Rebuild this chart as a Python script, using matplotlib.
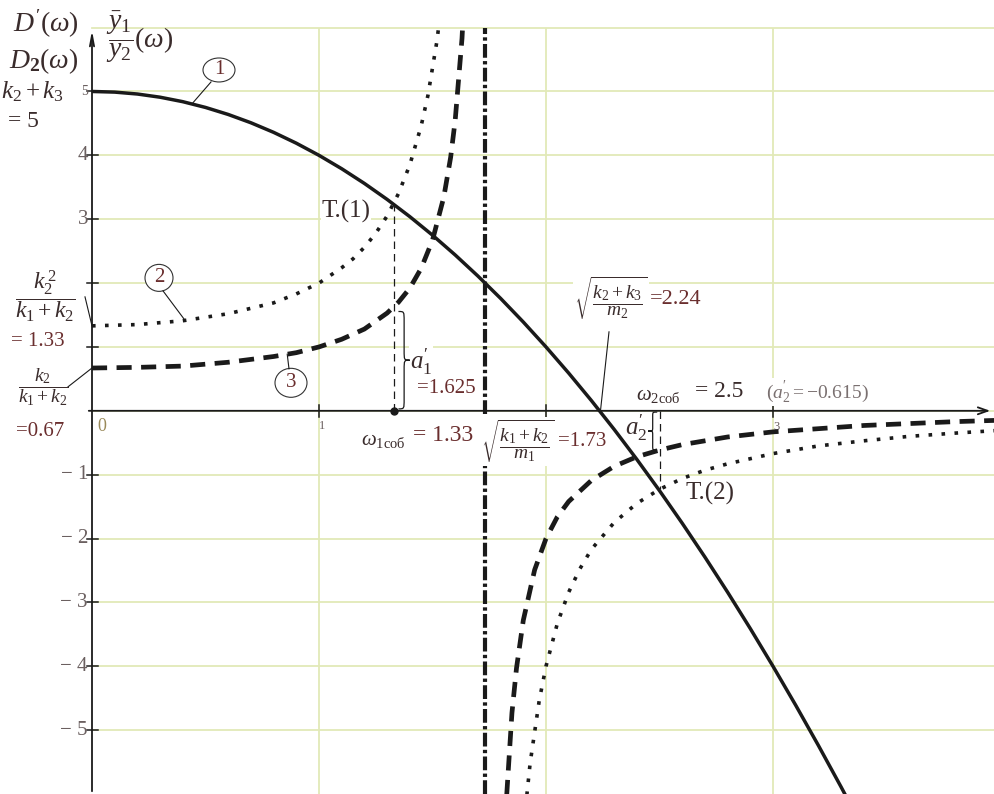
import numpy as np
import matplotlib.pyplot as plt
from matplotlib.patches import Ellipse, PathPatch
from matplotlib.path import Path

plt.rcParams['font.family'] = ['Liberation Serif', 'DejaVu Serif']
plt.rcParams['mathtext.fontset'] = 'custom'
plt.rcParams['mathtext.rm'] = 'Liberation Serif'
plt.rcParams['mathtext.it'] = 'Liberation Serif:italic'
plt.rcParams['mathtext.bf'] = 'Liberation Serif:bold'

# curve 1: D'(w)
w1 = [0.0, 0.1, 0.2, 0.3, 0.4, 0.5, 0.6, 0.7, 0.8, 0.9, 1.0, 1.1, 1.2, 1.3, 1.4, 1.5, 1.6,
      1.7, 1.8, 1.9, 2.0, 2.1, 2.2, 2.3, 2.4, 2.5, 2.6, 2.7, 2.8, 2.9, 3.0, 3.1, 3.2, 3.3, 3.4]
d1 = [5.00, 4.99, 4.96, 4.91, 4.84, 4.75, 4.64, 4.51, 4.36, 4.19, 4.00, 3.79, 3.56, 3.31,
      3.04, 2.75, 2.44, 2.11, 1.76, 1.39, 1.00, 0.59, 0.16, -0.29, -0.76, -1.25, -1.76,
      -2.29, -2.84, -3.41, -4.00, -4.61, -5.24, -5.89, -6.56]

# curve 2 (dotted), two branches
w2a = [0.0, 0.2, 0.4, 0.6, 0.8, 0.9, 1.0, 1.1, 1.15, 1.2, 1.25, 1.3, 1.35, 1.4, 1.45, 1.48, 1.52, 1.55]
y2a = [1.33, 1.35, 1.41, 1.52, 1.69, 1.83, 2.00, 2.24, 2.38, 2.56, 2.78, 3.05, 3.40, 3.85,
       4.46, 4.94, 5.80, 6.70]
w2b = [1.90, 1.93, 1.97, 2.0, 2.05, 2.1, 2.15, 2.2, 2.3, 2.4, 2.5, 2.6, 2.7, 2.8, 3.0, 3.2,
       3.4, 3.6, 3.8, 3.98]
y2b = [-6.56, -5.52, -4.54, -4.00, -3.33, -2.84, -2.47, -2.17, -1.75, -1.45, -1.23, -1.06,
       -0.93, -0.83, -0.67, -0.55, -0.47, -0.40, -0.35, -0.31]

# curve 3 (dashed), two branches
w3a = [0.0, 0.2, 0.4, 0.6, 0.8, 0.9, 1.0, 1.1, 1.2, 1.3, 1.35, 1.4, 1.45, 1.5, 1.55, 1.58,
       1.6, 1.63, 1.65]
y3a = [0.67, 0.68, 0.70, 0.76, 0.85, 0.91, 1.00, 1.12, 1.28, 1.53, 1.70, 1.92, 2.23, 2.67,
       3.35, 3.97, 4.55, 5.83, 7.21]
w3b = [1.80, 1.82, 1.85, 1.87, 1.9, 1.95, 2.0, 2.05, 2.1, 2.2, 2.3, 2.4, 2.5, 2.6, 2.8, 3.0,
       3.2, 3.4, 3.6, 3.8, 3.98]
y3b = [-8.33, -6.40, -4.73, -4.03, -3.28, -2.49, -2.00, -1.66, -1.42, -1.09, -0.87, -0.72,
       -0.615, -0.53, -0.41, -0.33, -0.28, -0.23, -0.20, -0.17, -0.15]

# characteristic frequencies and values
w_res = [1.33, 2.5]        # w1sob, w2sob
t_vals = [3.25, -1.23]     # curve 2 at w_res
a_vals = [1.625, -0.615]   # curve 3 at w_res
w_inf = 1.73               # sqrt((k1+k2)/m1)
w_zero = 2.24              # sqrt((k2+k3)/m2)

x_ticks = [1, 2, 3]
y_ticks = [-5, -4, -3, -2, -1, 1, 2, 3, 4, 5]
y_labels = {5: '5', 4: '4', 3: '3', -1: '\u2212 1', -2: '\u2212 2', -3: '\u2212 3',
            -4: '\u2212 4', -5: '\u2212 5'}

GRID = '#e2e9b8'
INK = '#1a1a1a'
TXT = '#3a2c2c'
NUM = '#6a2e2e'

# pixel -> data helper for placing annotations
X0, Y0, SX, SY = 92, 411, 227, 63.9


def P(x, y):
    return (x - X0) / SX, (Y0 - y) / SY


def brace(ax, x, y0, y1, w, lw=0.9):
    ym = (y0 + y1) / 2
    d = (y1 - y0) * 0.1
    h = x + w / 2
    verts = [(x, y1), (h, y1), (h, y1), (h, y1 - d),
             (h, ym + d),
             (h, ym), (h, ym), (x + w, ym),
             (h, ym), (h, ym), (h, ym - d),
             (h, y0 + d),
             (h, y0), (h, y0), (x, y0)]
    codes = [Path.MOVETO, Path.CURVE4, Path.CURVE4, Path.CURVE4,
             Path.LINETO,
             Path.CURVE4, Path.CURVE4, Path.CURVE4,
             Path.CURVE4, Path.CURVE4, Path.CURVE4,
             Path.LINETO,
             Path.CURVE4, Path.CURVE4, Path.CURVE4]
    ax.add_patch(PathPatch(Path(verts, codes), fill=False, lw=lw, color=INK, zorder=6))


fig = plt.figure(figsize=(9.94, 7.94), dpi=100)
ax = fig.add_axes([0, 0, 1, 1 - 27.6 / 794])
xmin, xmax = -X0 / SX, (994 - X0) / SX
ax.set_xlim(xmin, xmax)
ax.set_ylim(-6, 6)
ax.axis('off')

# grid
for gx in x_ticks:
    ax.plot([gx, gx], [-6, 6], color=GRID, lw=1.3, zorder=0)
for gy in list(range(-5, 7)):
    ax.plot([0, xmax], [gy, gy], color=GRID, lw=1.3, zorder=0, clip_on=False)

# axes with arrows
ax.annotate('', xy=(P(993, 0)[0], 0), xytext=(P(86, 0)[0], 0), annotation_clip=False,
            arrowprops=dict(arrowstyle='->,head_length=0.7,head_width=0.25', lw=1.3, color=INK))
ax.annotate('', xy=(0, 6.0), xytext=(0, -6.0), annotation_clip=False,
            arrowprops=dict(arrowstyle='->,head_length=0.8,head_width=0.15', lw=1.3, color=INK))

for yt in y_ticks:
    ax.plot([P(87, 0)[0], P(98, 0)[0]], [yt, yt], color=INK, lw=1.1, zorder=3)
for xt in x_ticks:
    ax.plot([xt, xt], [-0.09, 0.09], color=INK, lw=1.1, zorder=3)

# tick labels
for yt, lab in y_labels.items():
    fs = 10 if yt == 5 else 15
    ax.text(P(88, 0)[0], yt, lab, fontsize=fs, color='#6b6060', ha='right', va='center')
ax.text(*P(97, 427), '0', fontsize=13, color='#9a8a5a', ha='left', va='center')
ax.text(*P(322, 426), '1', fontsize=9, color='#6b6060', ha='center', va='center')
ax.text(*P(777, 427), '3', fontsize=9, color='#6b6060', ha='center', va='center')

# curves
ax.plot(w1, d1, color=INK, lw=2.5, zorder=4, solid_capstyle='butt')
for wx, wy in ((w2a, y2a), (w2b, y2b)):
    ax.plot(wx, wy, color=INK, lw=2.6, ls=(0, (1.0, 2.6)), dash_capstyle='butt', zorder=4)
for wx, wy in ((w3a, y3a), (w3b, y3b)):
    ax.plot(wx, wy, color=INK, lw=3.4, ls=(0, (3.2, 2.0)), dash_capstyle='butt', zorder=4)
ax.plot([w_inf, w_inf], [-6, 6], color=INK, lw=3.0, ls=(0, (3.3, 0.8, 0.8, 0.8)),
        dash_capstyle='butt', zorder=4)

# resonance verticals
for wr, tv in zip(w_res, t_vals):
    ax.plot([wr, wr], [0, tv], color=INK, lw=0.9, ls=(0, (6, 4)), zorder=5)
ax.plot([w_res[0]], [0], 'o', color=INK, ms=5, zorder=6)

brace(ax, w_res[0] + 0.02, 0.03, a_vals[0] - 0.07, 0.05)
brace(ax, w_res[1] - 0.01, a_vals[1], -0.02, -0.04)

# circled curve numbers
circles = [('1', (219, 70), (32, 24), (211, 82), w1, d1, 0.44),
           ('2', (159, 278), (28, 27), (163, 291), w2a, y2a, 0.41),
           ('3', (291, 383), (32, 29), (289, 369), w3a, y3a, 0.86)]
for num, c, size, lead, wx, wy, wa in circles:
    ax.add_patch(Ellipse(P(*c), size[0] / SX, size[1] / SY, fc='white', ec='#333333',
                         lw=0.8, zorder=6))
    ax.text(*P(*c), num, fontsize=15, color=NUM, ha='center', va='center', zorder=7)
    lx, ly = P(*lead)
    ax.plot([lx, wa], [ly, np.interp(wa, wx, wy)], color=INK, lw=0.8, zorder=6)

# left-side labels
ax.text(*P(46, 24), r"$D'(\omega)$", fontsize=20, color=TXT, ha='center', va='center')
ax.text(*P(44, 61), r"$D_{\mathbf{2}}(\omega)$", fontsize=20, color=TXT, ha='center', va='center')
ax.text(*P(140, 37), r"$\dfrac{\bar{y}_1}{y_2}(\omega)$", fontsize=20, color=TXT,
        ha='center', va='center')
ax.text(*P(1, 92), r"$k_2+k_3$", fontsize=18, color=TXT, ha='left', va='center')
ax.text(*P(8, 122), '= %g' % d1[0], fontsize=17, color=TXT, ha='left', va='center')

ax.text(*P(45, 296), r"$\dfrac{k_2^{\,2}}{k_1+k_2}$", fontsize=17, color=TXT,
        ha='center', va='center')
ax.text(*P(38, 342), '= %.2f' % y2a[0], fontsize=15, color=NUM, ha='center', va='center')
ax.plot([P(85, 0)[0], 0], [P(0, 297)[1], y2a[0]], color=INK, lw=0.8, clip_on=False)

ax.text(*P(43, 387), r"$\dfrac{k_2}{k_1+k_2}$", fontsize=14, color=TXT, ha='center', va='center')
ax.text(*P(40, 432), '=%.2f' % y3a[0], fontsize=15, color=NUM, ha='center', va='center')
ax.plot([P(68, 0)[0], 0], [P(0, 387)[1], y3a[0]], color=INK, lw=0.8, clip_on=False)

# point labels
wb = dict(fc='white', ec='none', pad=0.5)
ax.text(*P(346, 212), 'T.(1)', fontsize=18, color=TXT, ha='center', va='center', bbox=wb, zorder=5)
ax.text(*P(710, 494), 'T.(2)', fontsize=18, color=TXT, ha='center', va='center', zorder=5)
ax.text(*P(421, 362), r"$a_1'$", fontsize=18, color=TXT, ha='center', va='center', bbox=wb, zorder=5)
ax.text(*P(446, 389), '=%.3f' % a_vals[0], fontsize=15, color=NUM, ha='center', va='center',
        bbox=wb, zorder=5)
ax.text(*P(636, 428), r"$a_2'$", fontsize=18, color=TXT, ha='center', va='center', zorder=5)

ax.text(*P(383, 441), r"$\omega_{\mathrm{1соб}}$", fontsize=15, color=TXT, ha='center', va='center')
ax.text(*P(443, 436), '= %.2f' % w_res[0], fontsize=17, color=NUM, ha='center', va='center')
ax.text(*P(518, 442), r"$\sqrt{\dfrac{k_1+k_2}{m_1}}$", fontsize=14, color=TXT,
        ha='center', va='center', bbox=wb, zorder=5)
ax.text(*P(582, 442), '=%.2f' % w_inf, fontsize=15, color=NUM, ha='center', va='center',
        bbox=wb, zorder=5)

ax.text(*P(611, 299), r"$\sqrt{\dfrac{k_2+k_3}{m_2}}$", fontsize=14, color=TXT,
        ha='center', va='center', bbox=wb, zorder=5)
ax.text(*P(676, 300), '=%.2f' % w_zero, fontsize=16, color=NUM, ha='center', va='center',
        bbox=wb, zorder=5)
lx, ly = P(609, 332)
ax.plot([lx, w_zero], [ly, 0], color=INK, lw=0.8, zorder=5)

ax.text(*P(658, 396), r"$\omega_{\mathrm{2соб}}$", fontsize=15, color=TXT, ha='center', va='center')
ax.text(*P(719, 392), '= %g' % w_res[1], fontsize=17, color=TXT, ha='center', va='center')
ax.text(*P(817, 392), r"$(a_2' = \mathrm{%s}0.615)$" % '\u2212', fontsize=14, color='#7a7070',
        ha='center', va='center', bbox=wb, zorder=5)

fig.savefig('out.png', dpi=100)
